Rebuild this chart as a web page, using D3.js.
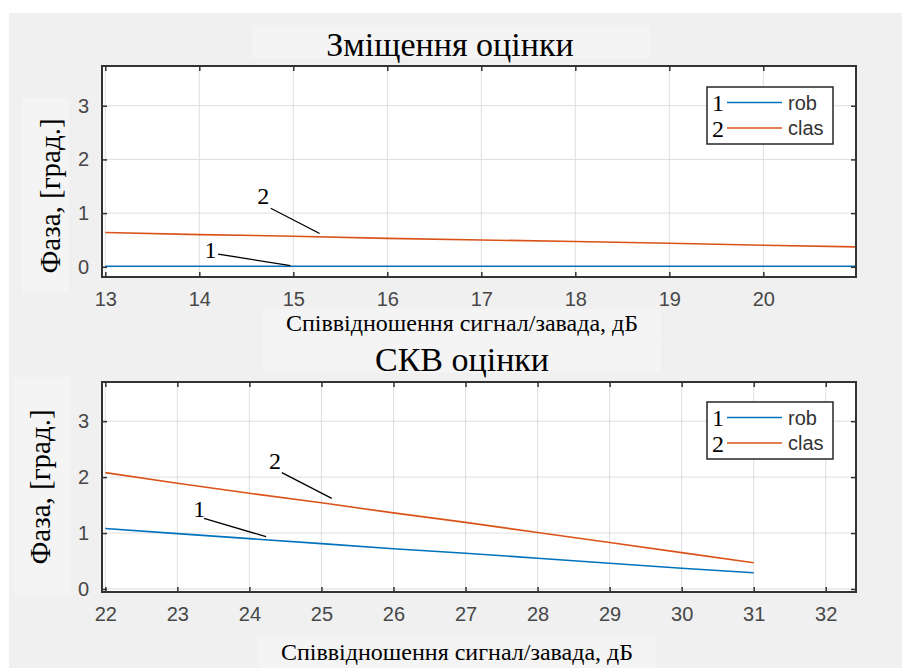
<!DOCTYPE html>
<html><head><meta charset="utf-8">
<script src="https://cdn.jsdelivr.net/npm/d3@7"></script>
<style>
html,body{margin:0;padding:0;background:#fff;}
</style></head>
<body>
<svg id="c" width="902" height="668"></svg>
<script>
// ---- data ----
const topTitle = "Зміщення оцінки";
const botTitle = "СКВ оцінки";
const xLabel = "Співвідношення сигнал/завада, дБ";
const yLabel = "Фаза, [град.]";
const seriesNames = ["rob", "clas"];
const seriesNums = ["1", "2"];

const topX = [13, 14, 15, 16, 17, 18, 19, 20, 21];
const topRob = [0.01, 0.01, 0.01, 0.01, 0.01, 0.01, 0.01, 0.01, 0.01];
const topClas = [0.64, 0.60, 0.57, 0.53, 0.50, 0.47, 0.44, 0.40, 0.37];
const topXTicks = [13, 14, 15, 16, 17, 18, 19, 20];
const topYTicks = [0, 1, 2, 3];

const botX = [22, 23, 24, 25, 26, 27, 28, 29, 30, 31];
const botRob = [1.08, 0.99, 0.90, 0.81, 0.72, 0.64, 0.55, 0.46, 0.37, 0.29];
const botClas = [2.08, 1.89, 1.71, 1.54, 1.36, 1.19, 1.01, 0.83, 0.65, 0.47];
const botXTicks = [22, 23, 24, 25, 26, 27, 28, 29, 30, 31, 32];
const botYTicks = [0, 1, 2, 3];

// annotations: [label, labelX, labelBaselineY, lineStartX, lineStartY, lineEndX, lineEndY] in data units
const topAnn = [["2", 14.68, 1.17, 14.76, 1.09, 15.28, 0.62], ["1", 14.12, 0.164, 14.2, 0.238, 14.97, 0.02]];
const botAnn = [["2", 24.355, 2.145, 24.45, 2.079, 25.143, 1.621], ["1", 23.305, 1.292, 23.37, 1.263, 24.231, 0.935]];

const colors = ["#0072BD", "#D95319"];

// ---- drawing ----
const svg = d3.select("#c");
svg.append("rect").attr("x", 9).attr("y", 13).attr("width", 893).attr("height", 655).attr("fill", "#f0f0f0");
const serif = "'Liberation Serif','Times New Roman',serif";
const sans = "'Liberation Sans',Arial,sans-serif";

function panel(cfg) {
  const g = svg.append("g");
  const x = d3.scaleLinear().domain(cfg.xDomain).range([cfg.left, cfg.right]);
  const y = d3.scaleLinear().domain(cfg.yDomain).range([cfg.bottom, cfg.top]);
  const clipId = "clip" + cfg.id;
  svg.append("clipPath").attr("id", clipId).append("rect")
    .attr("x", cfg.left).attr("y", cfg.top).attr("width", cfg.right - cfg.left).attr("height", cfg.bottom - cfg.top);

  // label boxes
  [cfg.titleBox, cfg.xlBox, cfg.ylBox].forEach(b => {
    g.append("rect").attr("x", b[0]).attr("y", b[1]).attr("width", b[2]).attr("height", b[3]).attr("fill", "#f4f4f4");
  });

  g.append("text").attr("x", cfg.titleX).attr("y", cfg.titleY).attr("text-anchor", "middle")
    .attr("font-family", serif).attr("font-size", 34).attr("fill", "#000").text(cfg.title);

  // plot background
  g.append("rect").attr("x", cfg.left).attr("y", cfg.top).attr("width", cfg.right - cfg.left).attr("height", cfg.bottom - cfg.top).attr("fill", "#fff");

  // grid
  g.append("g").selectAll("line").data(cfg.xTicks).join("line")
    .attr("x1", d => x(d)).attr("x2", d => x(d)).attr("y1", cfg.top).attr("y2", cfg.bottom)
    .attr("stroke", "#dedede").attr("stroke-width", 1);
  g.append("g").selectAll("line").data(cfg.yTicks).join("line")
    .attr("y1", d => y(d)).attr("y2", d => y(d)).attr("x1", cfg.left).attr("x2", cfg.right)
    .attr("stroke", "#dedede").attr("stroke-width", 1);

  // lines
  const line = d3.line().x(d => x(d[0])).y(d => y(d[1]));
  cfg.series.forEach((s, i) => {
    g.append("path").datum(cfg.xs.map((xv, j) => [xv, s[j]]))
      .attr("d", line).attr("fill", "none").attr("stroke", colors[i]).attr("stroke-width", 1.6)
      .attr("clip-path", `url(#${clipId})`);
  });

  // axes (ticks inward)
  const fmt = d3.format("d");
  const axB = g.append("g").attr("transform", `translate(0,${cfg.bottom})`)
    .call(d3.axisBottom(x).tickValues(cfg.xTicks).tickFormat(fmt).tickSizeInner(-5).tickSizeOuter(0).tickPadding(15));
  const axT = g.append("g").attr("transform", `translate(0,${cfg.top})`)
    .call(d3.axisTop(x).tickValues(cfg.xTicks).tickSizeInner(-5).tickSizeOuter(0).tickFormat(""));
  const axL = g.append("g").attr("transform", `translate(${cfg.left},0)`)
    .call(d3.axisLeft(y).tickValues(cfg.yTicks).tickFormat(fmt).tickSizeInner(-5).tickSizeOuter(0).tickPadding(13));
  const axR = g.append("g").attr("transform", `translate(${cfg.right},0)`)
    .call(d3.axisRight(y).tickValues(cfg.yTicks).tickSizeInner(-5).tickSizeOuter(0).tickFormat(""));
  [axB, axT, axL, axR].forEach(a => {
    a.select(".domain").remove();
    a.selectAll(".tick line").attr("stroke", "#333").attr("stroke-width", 1.5);
    a.selectAll(".tick text").attr("font-family", sans).attr("font-size", 20).attr("fill", "#474747");
  });
  // box
  g.append("rect").attr("x", cfg.left).attr("y", cfg.top).attr("width", cfg.right - cfg.left).attr("height", cfg.bottom - cfg.top)
    .attr("fill", "none").attr("stroke", "#333").attr("stroke-width", 2);

  // annotations
  cfg.ann.forEach(a => {
    g.append("text").attr("x", x(a[1])).attr("y", y(a[2])).attr("text-anchor", "middle")
      .attr("font-family", serif).attr("font-size", 24).attr("fill", "#000").text(a[0]);
    g.append("line").attr("x1", x(a[3])).attr("y1", y(a[4])).attr("x2", x(a[5])).attr("y2", y(a[6]))
      .attr("stroke", "#000").attr("stroke-width", 1.3);
  });

  // legend
  const lg = g.append("g").attr("transform", `translate(${cfg.legend[0]},${cfg.legend[1]})`);
  lg.append("rect").attr("x", 0).attr("y", 0).attr("width", 126).attr("height", 57).attr("fill", "#fff")
    .attr("stroke", "#262626").attr("stroke-width", 1.5);
  seriesNames.forEach((n, i) => {
    const yy = 15.5 + i * 25.5;
    lg.append("text").attr("x", 5).attr("y", yy + 8.5).attr("font-family", serif)
      .attr("font-size", 24).attr("fill", "#000").text(seriesNums[i]);
    lg.append("line").attr("x1", 20).attr("x2", 75).attr("y1", yy).attr("y2", yy).attr("stroke", colors[i]).attr("stroke-width", 1.5);
    lg.append("text").attr("x", 81).attr("y", yy + 7).attr("font-family", sans).attr("font-size", 20).attr("fill", "#333").text(n);
  });

  // x label
  g.append("text").attr("x", cfg.xlX).attr("y", cfg.xlY).attr("text-anchor", "middle")
    .attr("font-family", serif).attr("font-size", 24).attr("fill", "#000").text(xLabel);
  // y label
  g.append("text").attr("transform", `translate(${cfg.ylX},${cfg.ylY}) rotate(-90)`).attr("text-anchor", "middle")
    .attr("font-family", serif).attr("font-size", 29).attr("fill", "#000").text(yLabel);
}

panel({
  id: "t", left: 102, right: 856, top: 66, bottom: 277,
  xDomain: [12.965, 20.986], yDomain: [-0.19, 3.74],
  xTicks: topXTicks, yTicks: topYTicks,
  xs: topX, series: [topRob, topClas],
  title: topTitle, titleX: 450, titleY: 56, titleBox: [252, 25, 398, 33],
  ann: topAnn, legend: [707, 87],
  xlX: 462, xlY: 331, xlBox: [263, 309, 398, 30],
  ylX: 60, ylY: 196, ylBox: [22, 98, 47, 195]
});
panel({
  id: "b", left: 102, right: 856, top: 382, bottom: 592,
  xDomain: [21.954, 32.42], yDomain: [-0.054, 3.70],
  xTicks: botXTicks, yTicks: botYTicks,
  xs: botX, series: [botRob, botClas],
  title: botTitle, titleX: 462, titleY: 371, titleBox: [263, 340, 398, 33],
  ann: botAnn, legend: [707, 402],
  xlX: 457, xlY: 660, xlBox: [258, 637, 398, 31],
  ylX: 50, ylY: 487, ylBox: [14, 377, 57, 220]
});
</script>
</body></html>
